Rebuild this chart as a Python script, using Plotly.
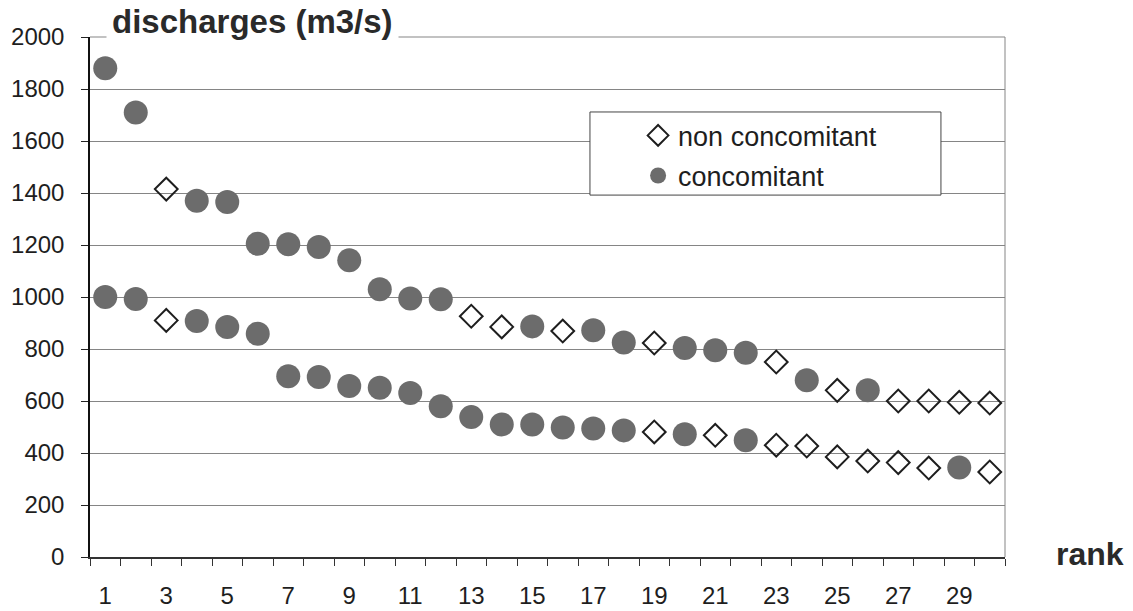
import plotly.graph_objects as go

# Ranked discharges: each rank has an upper and a lower value,
# each flagged as concomitant (C) or non concomitant (N).
ranks = list(range(1, 31))

upper_values = [1880, 1710, 1415, 1370, 1365, 1205, 1203, 1192, 1141, 1030,
                994, 991, 926, 885, 887, 869, 872, 825, 823, 804,
                795, 786, 750, 680, 641, 641, 600, 600, 595, 592]
upper_types = ["C", "C", "N", "C", "C", "C", "C", "C", "C", "C",
               "C", "C", "N", "N", "C", "N", "C", "C", "N", "C",
               "C", "C", "N", "C", "N", "C", "N", "N", "N", "N"]

lower_values = [1000, 992, 910, 908, 885, 859, 695, 692, 658, 651,
                631, 580, 538, 510, 510, 498, 494, 487, 481, 472,
                468, 449, 430, 427, 385, 369, 363, 342, 344, 327]
lower_types = ["C", "C", "N", "C", "C", "C", "C", "C", "C", "C",
               "C", "C", "C", "C", "C", "C", "C", "C", "N", "C",
               "N", "C", "N", "N", "N", "N", "N", "N", "C", "N"]

y_ticks = [0, 200, 400, 600, 800, 1000, 1200, 1400, 1600, 1800, 2000]
x_tick_labels = [1, 3, 5, 7, 9, 11, 13, 15, 17, 19, 21, 23, 25, 27, 29]

FONT = "Liberation Sans, Arial, sans-serif"
DARK = "#1e1e1e"
CIRCLE_GRAY = "#6c6c6c"
GRID = "#858585"


def pick(kind):
    xs, ys = [], []
    for r, v, t in zip(ranks, upper_values, upper_types):
        if t == kind:
            xs.append(r)
            ys.append(v)
    for r, v, t in zip(ranks, lower_values, lower_types):
        if t == kind:
            xs.append(r)
            ys.append(v)
    return xs, ys


fig = go.Figure()

nx, ny = pick("N")
fig.add_trace(go.Scatter(
    x=nx, y=ny, mode="markers", name="non concomitant",
    legendgroup="n",
    marker=dict(symbol="diamond-open", size=17.5, color=DARK,
                line=dict(width=2, color=DARK)),
))

cx, cy = pick("C")
fig.add_trace(go.Scatter(
    x=cx, y=cy, mode="markers", name="concomitant",
    legendgroup="c",
    marker=dict(symbol="circle", size=24, color=CIRCLE_GRAY,
                line=dict(width=0)),
))

fig.update_layout(
    width=1133, height=611,
    margin=dict(l=90, r=128, t=37, b=54, autoexpand=False),
    paper_bgcolor="white", plot_bgcolor="white",
    font=dict(family=FONT, color=DARK, size=24),
    showlegend=True,
    legend=dict(
        x=0.599, xanchor="left", y=0.857, yanchor="top",
        bgcolor="rgba(0,0,0,0)", borderwidth=0,
        font=dict(size=27, color=DARK),
        tracegroupgap=2,
        itemsizing="trace",
    ),
    xaxis=dict(
        range=[0.5, 30.5], showgrid=False, zeroline=False,
        automargin=False,
        tickmode="array", tickvals=x_tick_labels,
        ticktext=[str(v) for v in x_tick_labels],
        ticks="", ticklabelstandoff=16,
        tickfont=dict(size=24, color=DARK),
        showline=True, linecolor="#333333", linewidth=1.5,
        minor=dict(tickmode="linear", tick0=0.5, dtick=1, ticks="outside",
                   ticklen=7, tickcolor="#333333", tickwidth=1,
                   showgrid=False),
    ),
    yaxis=dict(
        range=[0, 2000], tickmode="array", tickvals=y_ticks,
        automargin=False,
        showgrid=True, gridcolor=GRID, gridwidth=1, zeroline=False,
        ticks="outside", ticklen=7, tickcolor="#222222", tickwidth=1,
        ticklabelstandoff=12,
        tickfont=dict(size=24, color=DARK),
        showline=True, linecolor="#111111", linewidth=1.5,
    ),
    shapes=[
        # plot-area frame on the right and at the top
        dict(type="line", xref="paper", yref="paper", x0=1, x1=1, y0=0, y1=1,
             line=dict(color=GRID, width=1)),
        dict(type="line", xref="paper", yref="paper", x0=0, x1=1, y0=1, y1=1,
             line=dict(color=GRID, width=1)),
        # legend frame
        dict(type="rect", xref="paper", yref="paper",
             x0=0.5464, x1=0.930, y0=0.696, y1=0.8558,
             line=dict(color="#444444", width=1), fillcolor="white",
             layer="above"),
    ],
    annotations=[
        dict(text="<b>discharges (m3/s)</b>", xref="paper", yref="paper",
             x=0.1781, y=1.03, xanchor="center", yanchor="middle",
             showarrow=False, bgcolor="white", borderpad=5,
             font=dict(size=33, color="#2a2a2a", family=FONT)),
        dict(text="<b>rank</b>", xref="paper", yref="paper",
             x=1.093, y=0.006, xanchor="center", yanchor="middle",
             showarrow=False,
             font=dict(size=32, color="#2a2a2a", family=FONT)),
    ],
)

fig.write_html("out.html")
